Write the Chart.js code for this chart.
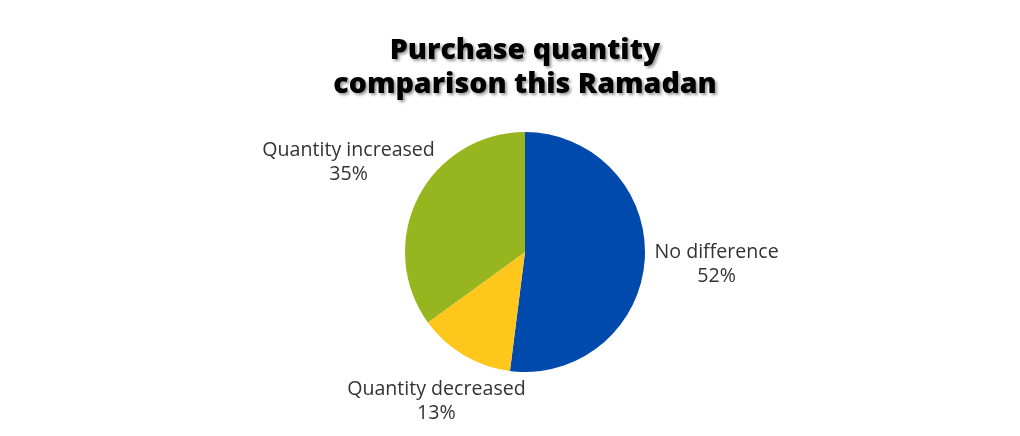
<!DOCTYPE html>
<html>
<head>
<meta charset="utf-8">
<script src="https://cdn.jsdelivr.net/npm/chart.js@4.4.1/dist/chart.umd.min.js"></script>
<style>
  html, body { margin: 0; padding: 0; background: #fff; }
  #wrap { width: 1020px; height: 436px; position: relative; }
</style>
</head>
<body>
<div id="wrap"><canvas id="purchaseChart"></canvas></div>
<script>
// données du graphique
const categories = ['No difference', 'Quantity decreased', 'Quantity increased'];
const shares = [52, 13, 35];
const sliceColors = ['#004aad', '#ffc61c', '#97b51e'];
const titleLines = ['Purchase quantity', 'comparison this Ramadan'];

// distance du centre du camembert au centre de chaque étiquette
const labelDistances = [192, 174, 198];

// titre avec ombre portée
const titlePlugin = {
    id: 'shadowTitle',
    afterDraw(chart) {
        const ctx = chart.ctx;
        ctx.save();
        ctx.font = '800 28.6px "Open Sans"';
        ctx.textAlign = 'center';
        ctx.textBaseline = 'alphabetic';
        ctx.fillStyle = '#000';
        ctx.shadowColor = 'rgba(0, 0, 0, 0.4)';
        ctx.shadowOffsetX = 2;
        ctx.shadowOffsetY = 2;
        ctx.shadowBlur = 3;
        ctx.fillText(titleLines[0], 525, 59);
        ctx.fillText(titleLines[1], 525, 93);
        ctx.restore();
    }
};

// étiquettes à l'extérieur des parts
const outsideLabels = {
    id: 'outsideLabels',
    afterDatasetsDraw(chart) {
        const ctx = chart.ctx;
        const meta = chart.getDatasetMeta(0);
        ctx.save();
        ctx.font = '19.6px "Open Sans"';
        ctx.fillStyle = '#333';
        ctx.textAlign = 'center';
        ctx.textBaseline = 'middle';
        meta.data.forEach((arc, i) => {
            const mid = (arc.startAngle + arc.endAngle) / 2;
            const d = labelDistances[i];
            const x = arc.x + Math.cos(mid) * d;
            const y = arc.y + Math.sin(mid) * d;
            ctx.fillText(categories[i], x, y - 12);
            ctx.fillText(shares[i] + '%', x, y + 12);
        });
        ctx.restore();
    }
};

new Chart(document.getElementById('purchaseChart'), {
    type: 'pie',
    data: {
        labels: categories,
        datasets: [{
            data: shares,
            backgroundColor: sliceColors,
            borderWidth: 0
        }]
    },
    options: {
        responsive: true,
        maintainAspectRatio: false,
        animation: false,
        layout: {
            padding: { top: 132, bottom: 64, left: 405, right: 375 }
        },
        plugins: {
            legend: { display: false },
            title: { display: false },
            tooltip: { enabled: false }
        }
    },
    plugins: [outsideLabels, titlePlugin]
});
</script>
</body>
</html>
